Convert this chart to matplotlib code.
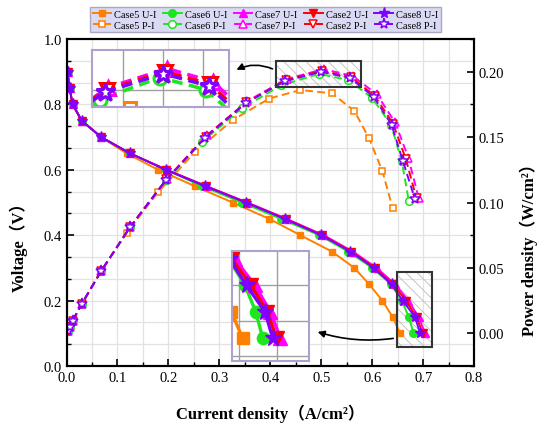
import numpy as np
import matplotlib.pyplot as plt
from matplotlib.patches import Rectangle, FancyArrowPatch
from matplotlib.ticker import MultipleLocator

# Polarisation (U-I) and power (P-I) curves for five cases
voltage = [0.9, 0.85, 0.8, 0.75, 0.7, 0.65, 0.6, 0.55, 0.5, 0.45, 0.4,
           0.35, 0.3, 0.25, 0.2, 0.15, 0.1]

i_case5 = [0.002, 0.006, 0.012, 0.030, 0.068, 0.118, 0.180, 0.252, 0.326,
           0.398, 0.459, 0.521, 0.565, 0.594, 0.620, 0.640, 0.655]
i_case6 = [0.002, 0.006, 0.012, 0.030, 0.068, 0.125, 0.195, 0.266, 0.344,
           0.421, 0.496, 0.553, 0.600, 0.637, 0.658, 0.672, 0.681]
i_case7 = [0.002, 0.006, 0.012, 0.030, 0.068, 0.125, 0.197, 0.275, 0.355,
           0.432, 0.505, 0.562, 0.609, 0.645, 0.671, 0.691, 0.704]
i_case2 = [0.002, 0.006, 0.012, 0.030, 0.068, 0.125, 0.196, 0.273, 0.353,
           0.430, 0.502, 0.559, 0.605, 0.641, 0.666, 0.687, 0.699]
i_case8 = [0.002, 0.006, 0.012, 0.030, 0.068, 0.125, 0.195, 0.272, 0.352,
           0.428, 0.500, 0.557, 0.603, 0.638, 0.660, 0.684, 0.694]

# power density (W/cm2), one point fewer than the U-I curves
p_case5 = [0.0018, 0.0051, 0.0096, 0.0225, 0.0476, 0.0767, 0.1080, 0.1386,
           0.1630, 0.1795, 0.1860, 0.1835, 0.1700, 0.1490, 0.1240, 0.0960]
p_case6 = [0.0018, 0.0051, 0.0096, 0.0225, 0.0476, 0.0813, 0.1170, 0.1463,
           0.1720, 0.1895, 0.1984, 0.1936, 0.1800, 0.1593, 0.1316, 0.1008]
p_case7 = [0.0018, 0.0051, 0.0096, 0.0225, 0.0476, 0.0813, 0.1182, 0.1513,
           0.1775, 0.1944, 0.2020, 0.1967, 0.1827, 0.1613, 0.1342, 0.1037]
p_case2 = [0.0018, 0.0051, 0.0096, 0.0225, 0.0476, 0.0813, 0.1176, 0.1502,
           0.1765, 0.1935, 0.2008, 0.1957, 0.1815, 0.1603, 0.1332, 0.1031]
p_case8 = [0.0018, 0.0051, 0.0096, 0.0225, 0.0476, 0.0813, 0.1170, 0.1496,
           0.1760, 0.1926, 0.2000, 0.1950, 0.1809, 0.1595, 0.1320, 0.1026]

names = ['Case5', 'Case6', 'Case7', 'Case2', 'Case8']
currents = [i_case5, i_case6, i_case7, i_case2, i_case8]
powers = [p_case5, p_case6, p_case7, p_case2, p_case8]
colors = ['#FF8000', '#1EE61E', '#FF00FF', '#FF0000', '#8000FF']
markers = ['s', 'o', '^', 'v', '*']
msizes = [5, 5.5, 6, 6, 8]

plt.rcParams['hatch.linewidth'] = 0.6
tick_font = 'Liberation Serif'
label_font = ['Liberation Serif', 'Noto Sans CJK SC']

fig = plt.figure(figsize=(5.42, 4.27), dpi=100)
ax = fig.add_axes([0.1227, 0.1405, 0.752, 0.7658])
ax2 = ax.twinx()

handles = []
for name, cur, pw, c, m, ms in zip(names, currents, powers, colors, markers, msizes):
    h1, = ax.plot(cur, voltage, color=c, marker=m, ms=ms, lw=1.4,
                  label=name + ' U-I')
    h2, = ax2.plot(cur[:len(pw)], pw, color=c, marker=m, ms=ms, lw=1.4,
                   mfc='white', mew=1.1, dashes=(4, 2.2),
                   label=name + ' P-I')
    handles += [h1, h2]

# axes, ticks, grid
ax.set_xlim(0, 0.8)
ax.set_ylim(0, 1.0)
ax2.set_ylim(-0.025, 0.225)
ax.xaxis.set_major_locator(MultipleLocator(0.1))
ax.xaxis.set_minor_locator(MultipleLocator(0.05))
ax.yaxis.set_major_locator(MultipleLocator(0.2))
ax.yaxis.set_minor_locator(MultipleLocator(0.2 / 3))
ax2.yaxis.set_major_locator(MultipleLocator(0.05))
ax2.yaxis.set_minor_locator(MultipleLocator(0.025))
ax.grid(which='both', color='#E2E2E2', lw=0.9)
ax.set_axisbelow(True)
ax.xaxis.set_major_formatter(plt.FormatStrFormatter('%.1f'))
ax.yaxis.set_major_formatter(plt.FormatStrFormatter('%.1f'))
ax2.yaxis.set_major_formatter(plt.FormatStrFormatter('%.2f'))

for a in (ax, ax2):
    a.tick_params(which='major', direction='in', length=5, width=1.2)
    a.tick_params(which='minor', direction='in', length=3, width=1.0)
    for s in a.spines.values():
        s.set_linewidth(1.5)
    for lab in a.get_xticklabels() + a.get_yticklabels():
        lab.set_fontfamily(tick_font)
        lab.set_fontsize(10.5)
ax.tick_params(axis='y', which='both', right=False)
ax2.tick_params(axis='y', which='both', left=False)

ax.set_xlabel('Current density（A/cm²）', family=label_font,
              fontweight='bold', fontsize=12)
ax.xaxis.set_label_coords(0.5, -0.115)
ax.set_ylabel('Voltage（V）', family=label_font, fontweight='bold', fontsize=12)
ax.yaxis.set_label_coords(-0.095, 0.38)
ax2.set_ylabel('Power density（W/cm²）', family=label_font,
               fontweight='bold', fontsize=12)
ax2.yaxis.set_label_coords(1.112, 0.37)

# hatched zoom regions
ax2.add_patch(Rectangle((0.411, 0.1885), 0.167, 0.020, fill=False,
                        hatch='\\\\\\', edgecolor='#BBBBBB', lw=0, zorder=1))
ax2.add_patch(Rectangle((0.411, 0.1885), 0.167, 0.020, fill=False,
                        edgecolor='#333333', lw=1.5, zorder=5))
ax.add_patch(Rectangle((0.649, 0.059), 0.0685, 0.228, fill=False,
                       hatch='\\\\\\', edgecolor='#BBBBBB', lw=0, zorder=1))
ax2.add_patch(Rectangle((0.649, -0.025 + 0.059 / 4), 0.0685, 0.228 / 4,
                        fill=False, edgecolor='#333333', lw=1.5, zorder=5))

# magnified views
inset_p = fig.add_axes([0.169, 0.746, 0.2533, 0.1349])
inset_v = fig.add_axes([0.4286, 0.1515, 0.142, 0.259])
for name, cur, pw, c, m, ms in zip(names, currents, powers, colors, markers, msizes):
    inset_p.plot(cur[:len(pw)], pw, color=c, marker=m, ms=ms * 1.7, lw=2.6,
                 mfc='white', mew=2.2, dashes=(3, 1.8))
    inset_v.plot(cur, voltage, color=c, marker=m, ms=ms * 1.6, lw=2.4)
inset_p.set_xlim(0.411, 0.582)
inset_p.set_ylim(0.1864, 0.2095)
inset_p.set_xticks([0.45, 0.5, 0.55])
inset_p.set_yticks([0.1935])
inset_v.set_xlim(0.6415, 0.7415)
inset_v.set_ylim(0.056, 0.266)
inset_v.set_xticks([0.65, 0.70])
inset_v.set_yticks([0.2 / 3, 0.4 / 3, 0.2])
for a in (inset_p, inset_v):
    a.grid(color='#A0A0A0', lw=1.0)
    a.set_axisbelow(True)
    a.tick_params(length=0, labelbottom=False, labelleft=False)
    for s in a.spines.values():
        s.set_color('#B0A0D0')
        s.set_linewidth(1.5)

# arrows from the hatched regions to the magnified views
fig.patches.append(FancyArrowPatch(
    (275, 356), (234, 355), transform=None, connectionstyle='arc3,rad=0.25',
    arrowstyle='-|>', mutation_scale=10, color='black', lw=1.2))
fig.patches.append(FancyArrowPatch(
    (396, 88), (315, 95), transform=None, connectionstyle='arc3,rad=-0.12',
    arrowstyle='-|>', mutation_scale=10, color='black', lw=1.2))

leg = fig.legend(handles=handles, ncol=5, loc='upper left',
                 bbox_to_anchor=(90 / 542, 1 - 8 / 427),
                 prop={'family': tick_font, 'size': 7.5},
                 handlelength=1.8, handletextpad=0.3, columnspacing=0.6,
                 labelspacing=0.15, borderpad=0.25, borderaxespad=0,
                 fancybox=False, framealpha=1, facecolor='#DADAF4',
                 edgecolor='#A8A8C0')
leg.get_frame().set_linewidth(1.0)

fig.savefig('out.png', dpi=100)
